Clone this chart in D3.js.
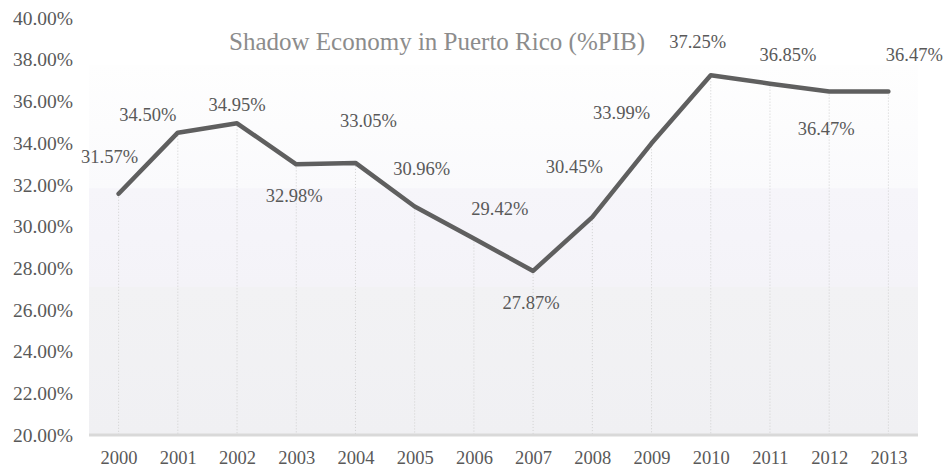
<!DOCTYPE html>
<html lang="en">
<head>
    <meta charset="UTF-8">
    <title>Shadow Economy in Puerto Rico</title>
    <script src="https://d3js.org/d3.v7.min.js"></script>
    <style>
        body {
            margin: 0;
            background: #fff;
        }
        svg text {
            font-family: "Liberation Serif", "Times New Roman", serif;
        }
        .axis text {
            fill: #595959;
        }
        .y-axis text {
            font-size: 19.5px;
        }
        .x-axis text {
            font-size: 18.5px;
        }
        .lbl {
            fill: #595959;
            font-size: 18.5px;
        }
    </style>
</head>
<body>
    <div id="chart"></div>

    <script>
        // data
        const years = ["2000", "2001", "2002", "2003", "2004", "2005", "2006",
                       "2007", "2008", "2009", "2010", "2011", "2012", "2013"];
        const shares = [31.57, 34.50, 34.95, 32.98, 33.05, 30.96, 29.42,
                        27.87, 30.45, 33.99, 37.25, 36.85, 36.47, 36.47];
        const yTicks = [20, 22, 24, 26, 28, 30, 32, 34, 36, 38, 40];

        // label offsets from their point (hand placed like the original)
        const labelDx = [-9, -30, 0, -2, 13, 7, 26, -2, -18, -30, -13, 18, -3, 26];
        const labelDy = [-37, -18, -18, 32, -42, -37, -30, 32, -50, -30, -33, -29, 37, -37];

        const W = 944, H = 468;
        const plot = { left: 89, right: 918, top: 65, axisY: 435, yTop: 18 };

        const svg = d3.select("#chart")
            .append("svg")
            .attr("width", W)
            .attr("height", H);

        const x = d3.scalePoint()
            .domain(years)
            .range([plot.left, plot.right])
            .padding(0.5);

        const y = d3.scaleLinear()
            .domain([20, 40])
            .range([plot.axisY, plot.yTop]);

        // background panel
        const grad = svg.append("defs").append("linearGradient")
            .attr("id", "bg")
            .attr("x1", 0).attr("y1", 0).attr("x2", 0).attr("y2", 1);
        [[0, "#fefefe"], [0.333, "#fafafc"], [0.334, "#f6f5fa"],
         [0.599, "#f4f3f8"], [0.6, "#f2f2f4"], [1, "#f0f0f3"]].forEach(s => {
            grad.append("stop").attr("offset", s[0]).attr("stop-color", s[1]);
        });

        svg.append("rect")
            .attr("x", plot.left)
            .attr("y", plot.top)
            .attr("width", plot.right - plot.left)
            .attr("height", plot.axisY - plot.top)
            .attr("fill", "url(#bg)");

        // drop lines
        svg.selectAll(".drop")
            .data(shares)
            .enter()
            .append("line")
            .attr("x1", (d, i) => x(years[i]))
            .attr("x2", (d, i) => x(years[i]))
            .attr("y1", d => y(d))
            .attr("y2", plot.axisY)
            .attr("stroke", "#d0d0d0")
            .attr("stroke-width", 1)
            .attr("stroke-dasharray", "1,2");

        // x axis
        const xAxis = svg.append("g")
            .attr("class", "axis x-axis")
            .attr("transform", `translate(0, ${plot.axisY})`)
            .call(d3.axisBottom(x).tickSize(0).tickPadding(16));
        xAxis.select(".domain").remove();
        xAxis.append("line")
            .attr("x1", plot.left)
            .attr("x2", plot.right)
            .attr("stroke", "#d9d9d9")
            .attr("stroke-width", 3);

        // y axis (labels only)
        const yAxis = svg.append("g")
            .attr("class", "axis y-axis")
            .attr("transform", "translate(73, 0)")
            .call(d3.axisLeft(y).tickValues(yTicks).tickSize(0).tickPadding(0)
                .tickFormat(d => d.toFixed(2) + "%"));
        yAxis.select(".domain").remove();

        // title
        svg.append("text")
            .attr("x", 437)
            .attr("y", 50)
            .attr("text-anchor", "middle")
            .style("font-size", "25px")
            .style("fill", "#8c8c8c")
            .text("Shadow Economy in Puerto Rico (%PIB)");

        // line
        const line = d3.line()
            .x((d, i) => x(years[i]))
            .y(d => y(d));

        svg.append("path")
            .datum(shares)
            .attr("d", line)
            .attr("fill", "none")
            .attr("stroke", "#5f5f5f")
            .attr("stroke-width", 4.5)
            .attr("stroke-linejoin", "round")
            .attr("stroke-linecap", "round");

        // value labels
        svg.selectAll(".lbl")
            .data(shares)
            .enter()
            .append("text")
            .attr("class", "lbl")
            .attr("x", (d, i) => x(years[i]) + labelDx[i])
            .attr("y", (d, i) => y(d) + labelDy[i])
            .attr("text-anchor", "middle")
            .attr("dominant-baseline", "central")
            .text(d => d.toFixed(2) + "%");
    </script>
</body>
</html>
